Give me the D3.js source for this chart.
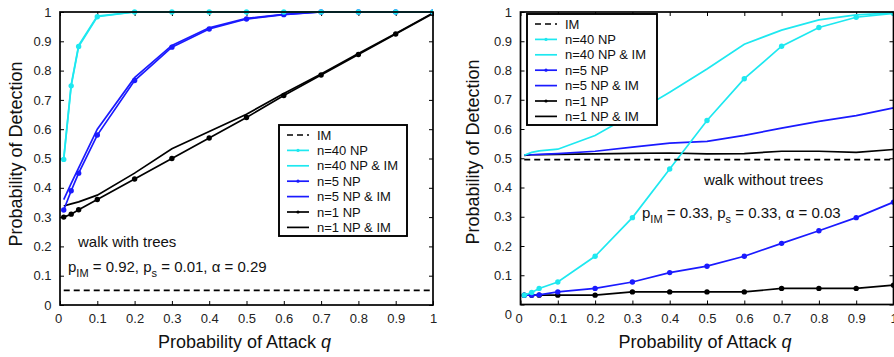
<!DOCTYPE html>
<html>
<head>
<meta charset="utf-8">
<script src="https://cdn.jsdelivr.net/npm/d3@7"></script>
<style>
  body { margin: 0; background: #fff; }
  svg { display: block; font-family: "Liberation Sans", Arial, Helvetica, sans-serif; }
</style>
</head>
<body>
<svg width="894" height="357"></svg>
<script>
// Attack probabilities used on the x axis
const qVals = [0.01, 0.03, 0.05, 0.1, 0.2, 0.3, 0.4, 0.5, 0.6, 0.7, 0.8, 0.9, 1];
const xTicks = [0, 0.1, 0.2, 0.3, 0.4, 0.5, 0.6, 0.7, 0.8, 0.9, 1];
const yTicks = [0, 0.1, 0.2, 0.3, 0.4, 0.5, 0.6, 0.7, 0.8, 0.9, 1];
const legendNames = ["IM", "n=40 NP", "n=40 NP & IM", "n=5 NP", "n=5 NP & IM", "n=1 NP", "n=1 NP & IM"];

// Left panel: walk with trees
const leftIM      = [0.05, 0.05, 0.05, 0.05, 0.05, 0.05, 0.05, 0.05, 0.05, 0.05, 0.05, 0.05, 0.05];
const leftN40NP   = [0.497, 0.748, 0.882, 0.984, 1, 1, 1, 1, 1, 1, 1, 1, 1];
const leftN40IM   = [0.50, 0.752, 0.886, 0.986, 1, 1, 1, 1, 1, 1, 1, 1, 1];
const leftN5NP    = [0.324, 0.39, 0.45, 0.58, 0.766, 0.88, 0.942, 0.976, 0.991, 1, 1, 1, 1];
const leftN5IM    = [0.36, 0.415, 0.468, 0.60, 0.776, 0.886, 0.946, 0.978, 0.992, 1, 1, 1, 1];
const leftN1NP    = [0.30, 0.31, 0.325, 0.36, 0.43, 0.50, 0.57, 0.64, 0.715, 0.785, 0.855, 0.925, 0.995];
const leftN1IM    = [0.338, 0.345, 0.352, 0.375, 0.45, 0.533, 0.592, 0.651, 0.722, 0.788, 0.858, 0.927, 0.997];

// Right panel: walk without trees
const rightIM     = [0.495, 0.495, 0.495, 0.495, 0.495, 0.495, 0.495, 0.495, 0.495, 0.495, 0.495, 0.495, 0.495];
const rightN40NP  = [0.032, 0.041, 0.055, 0.077, 0.165, 0.297, 0.463, 0.629, 0.772, 0.883, 0.947, 0.982, 0.995];
const rightN40IM  = [0.51, 0.52, 0.525, 0.531, 0.578, 0.65, 0.726, 0.805, 0.89, 0.938, 0.973, 0.99, 0.997];
const rightN5NP   = [0.032, 0.032, 0.033, 0.043, 0.055, 0.077, 0.109, 0.131, 0.165, 0.209, 0.252, 0.297, 0.35];
const rightN5IM   = [0.512, 0.512, 0.513, 0.516, 0.524, 0.538, 0.552, 0.558, 0.578, 0.603, 0.626, 0.646, 0.672];
const rightN1NP   = [0.032, 0.032, 0.032, 0.032, 0.032, 0.043, 0.043, 0.043, 0.043, 0.055, 0.055, 0.055, 0.066];
const rightN1IM   = [0.51, 0.512, 0.512, 0.513, 0.515, 0.517, 0.518, 0.515, 0.516, 0.524, 0.524, 0.52, 0.53];

const CYAN = "#1ee8f0", BLUE = "#1a1aff", BLACK = "#000";

const svg = d3.select("svg");

function seriesList(im, n40np, n40im, n5np, n5im, n1np, n1im) {
    return [
        {name: legendNames[0], vals: im,    color: BLACK, dash: "6,4", marker: false},
        {name: legendNames[1], vals: n40np, color: CYAN,  dash: null,  marker: true},
        {name: legendNames[2], vals: n40im, color: CYAN,  dash: null,  marker: false},
        {name: legendNames[3], vals: n5np,  color: BLUE,  dash: null,  marker: true},
        {name: legendNames[4], vals: n5im,  color: BLUE,  dash: null,  marker: false},
        {name: legendNames[5], vals: n1np,  color: BLACK, dash: null,  marker: true},
        {name: legendNames[6], vals: n1im,  color: BLACK, dash: null,  marker: false}
    ];
}

function drawPanel(cfg) {
    const x = d3.scaleLinear().domain([0, 1]).range([cfg.left, cfg.right]);
    const y = d3.scaleLinear().domain([0, 1]).range([cfg.bottom, cfg.top]);
    const g = svg.append("g");

    // axes with inward ticks
    const xAx = g.append("g").attr("transform", `translate(0,${cfg.bottom})`)
        .call(d3.axisBottom(x).tickValues(xTicks).tickSize(-4).tickPadding(9).tickFormat(d3.format("~g")));
    g.append("g").attr("transform", `translate(0,${cfg.top})`)
        .call(d3.axisTop(x).tickValues(xTicks).tickSize(-4).tickFormat(""));
    const yAx = g.append("g").attr("transform", `translate(${cfg.left},0)`)
        .call(d3.axisLeft(y).tickValues(yTicks).tickSize(-4).tickPadding(8.5).tickFormat(d3.format("~g")));
    g.append("g").attr("transform", `translate(${cfg.right},0)`)
        .call(d3.axisRight(y).tickValues(yTicks).tickSize(-4).tickFormat(""));

    g.selectAll(".domain").remove();
    g.selectAll(".tick line").attr("stroke", "#000").attr("stroke-width", 1);
    g.selectAll(".tick text").attr("font-size", 13).attr("fill", "#222")
        .attr("font-family", "'Liberation Sans', Arial, sans-serif");
    xAx.selectAll(".tick text").filter(d => d === 0).attr("dx", -2);
    if (cfg.zeroShift) yAx.selectAll(".tick text").filter(d => d === 0).attr("dy", cfg.zeroShift);

    // lines
    const line = d3.line().x((d, i) => x(qVals[i])).y(d => y(d));
    const clip = "clip" + cfg.id;
    g.append("clipPath").attr("id", clip).append("rect")
        .attr("x", cfg.left).attr("y", cfg.top - 4)
        .attr("width", cfg.right - cfg.left).attr("height", cfg.bottom - cfg.top + 4);
    const plot = g.append("g").attr("clip-path", `url(#${clip})`);

    cfg.series.slice().reverse().forEach(s => {
        plot.append("path").datum(s.vals)
            .attr("d", line)
            .attr("fill", "none")
            .attr("stroke", s.color)
            .attr("stroke-width", 1.7)
            .attr("stroke-dasharray", s.dash);
        if (s.marker) {
            plot.selectAll(null).data(s.vals).enter().append("circle")
                .attr("cx", (d, i) => x(qVals[i]))
                .attr("cy", d => y(d))
                .attr("r", 2.7)
                .attr("fill", s.color);
        }
    });

    // frame
    g.append("rect").attr("x", cfg.left).attr("y", cfg.top)
        .attr("width", cfg.right - cfg.left).attr("height", cfg.bottom - cfg.top)
        .attr("fill", "none").attr("stroke", "#000").attr("stroke-width", 1.7);

    // legend
    const lg = g.append("g");
    lg.append("rect").attr("x", cfg.legend.x).attr("y", cfg.legend.y)
        .attr("width", cfg.legend.w).attr("height", cfg.legend.h)
        .attr("fill", "#fff").attr("stroke", "#000").attr("stroke-width", 1.9);
    cfg.series.forEach((s, i) => {
        const ly = cfg.legend.y + 10 + i * 15.4;
        const lx = cfg.legend.x + 8;
        lg.append("line").attr("x1", lx).attr("x2", lx + 22).attr("y1", ly).attr("y2", ly)
            .attr("stroke", s.color).attr("stroke-width", 1.7).attr("stroke-dasharray", s.dash);
        if (s.marker) {
            lg.append("circle").attr("cx", lx + 11).attr("cy", ly).attr("r", 1.6).attr("fill", s.color);
        }
        lg.append("text").attr("x", lx + 30).attr("y", ly + 4.5)
            .attr("font-size", 13).attr("fill", "#111").text(s.name);
    });

    // annotations
    g.append("text").attr("x", cfg.note.x).attr("y", cfg.note.y)
        .attr("font-size", 15).attr("fill", "#111").text(cfg.note.text);
    const p = g.append("text").attr("x", cfg.params.x).attr("y", cfg.params.y)
        .attr("font-size", 15).attr("fill", "#111");
    p.append("tspan").text("p");
    p.append("tspan").attr("font-size", 11).attr("dy", 5).text("IM");
    p.append("tspan").attr("dy", -5).text(` = ${cfg.params.pim}, p`);
    p.append("tspan").attr("font-size", 11).attr("dy", 5).text("s");
    p.append("tspan").attr("dy", -5).text(` = ${cfg.params.ps}, \u03b1 = ${cfg.params.alpha}`);

    // axis titles
    const xt = g.append("text").attr("x", (cfg.left + cfg.right) / 2 - 2).attr("y", 348)
        .attr("text-anchor", "middle").attr("font-size", 18).attr("fill", "#111");
    xt.append("tspan").text("Probability of Attack ");
    xt.append("tspan").attr("font-style", "italic").text("q");
    g.append("text")
        .attr("transform", `translate(${cfg.yTitleX},${cfg.yTitleY}) rotate(-90)`)
        .attr("text-anchor", "middle").attr("font-size", 18).attr("fill", "#111")
        .text("Probability of Detection");
}

drawPanel({
    id: "L", left: 60, right: 433, top: 12, bottom: 305, yTitleX: 22, yTitleY: 154,
    series: seriesList(leftIM, leftN40NP, leftN40IM, leftN5NP, leftN5IM, leftN1NP, leftN1IM),
    legend: {x: 279, y: 125, w: 128, h: 111},
    note: {x: 78, y: 247, text: "walk with trees"},
    params: {x: 68, y: 272, pim: "0.92", ps: "0.01", alpha: "0.29"}
});

drawPanel({
    id: "R", left: 520.5, right: 893.5, top: 12, bottom: 304.5, yTitleX: 479, yTitleY: 152, zeroShift: "1.05em",
    series: seriesList(rightIM, rightN40NP, rightN40IM, rightN5NP, rightN5IM, rightN1NP, rightN1IM),
    legend: {x: 527, y: 14, w: 130, h: 111},
    note: {x: 704, y: 185, text: "walk without trees"},
    params: {x: 642, y: 218, pim: "0.33", ps: "0.33", alpha: "0.03"}
});
</script>
</body>
</html>
